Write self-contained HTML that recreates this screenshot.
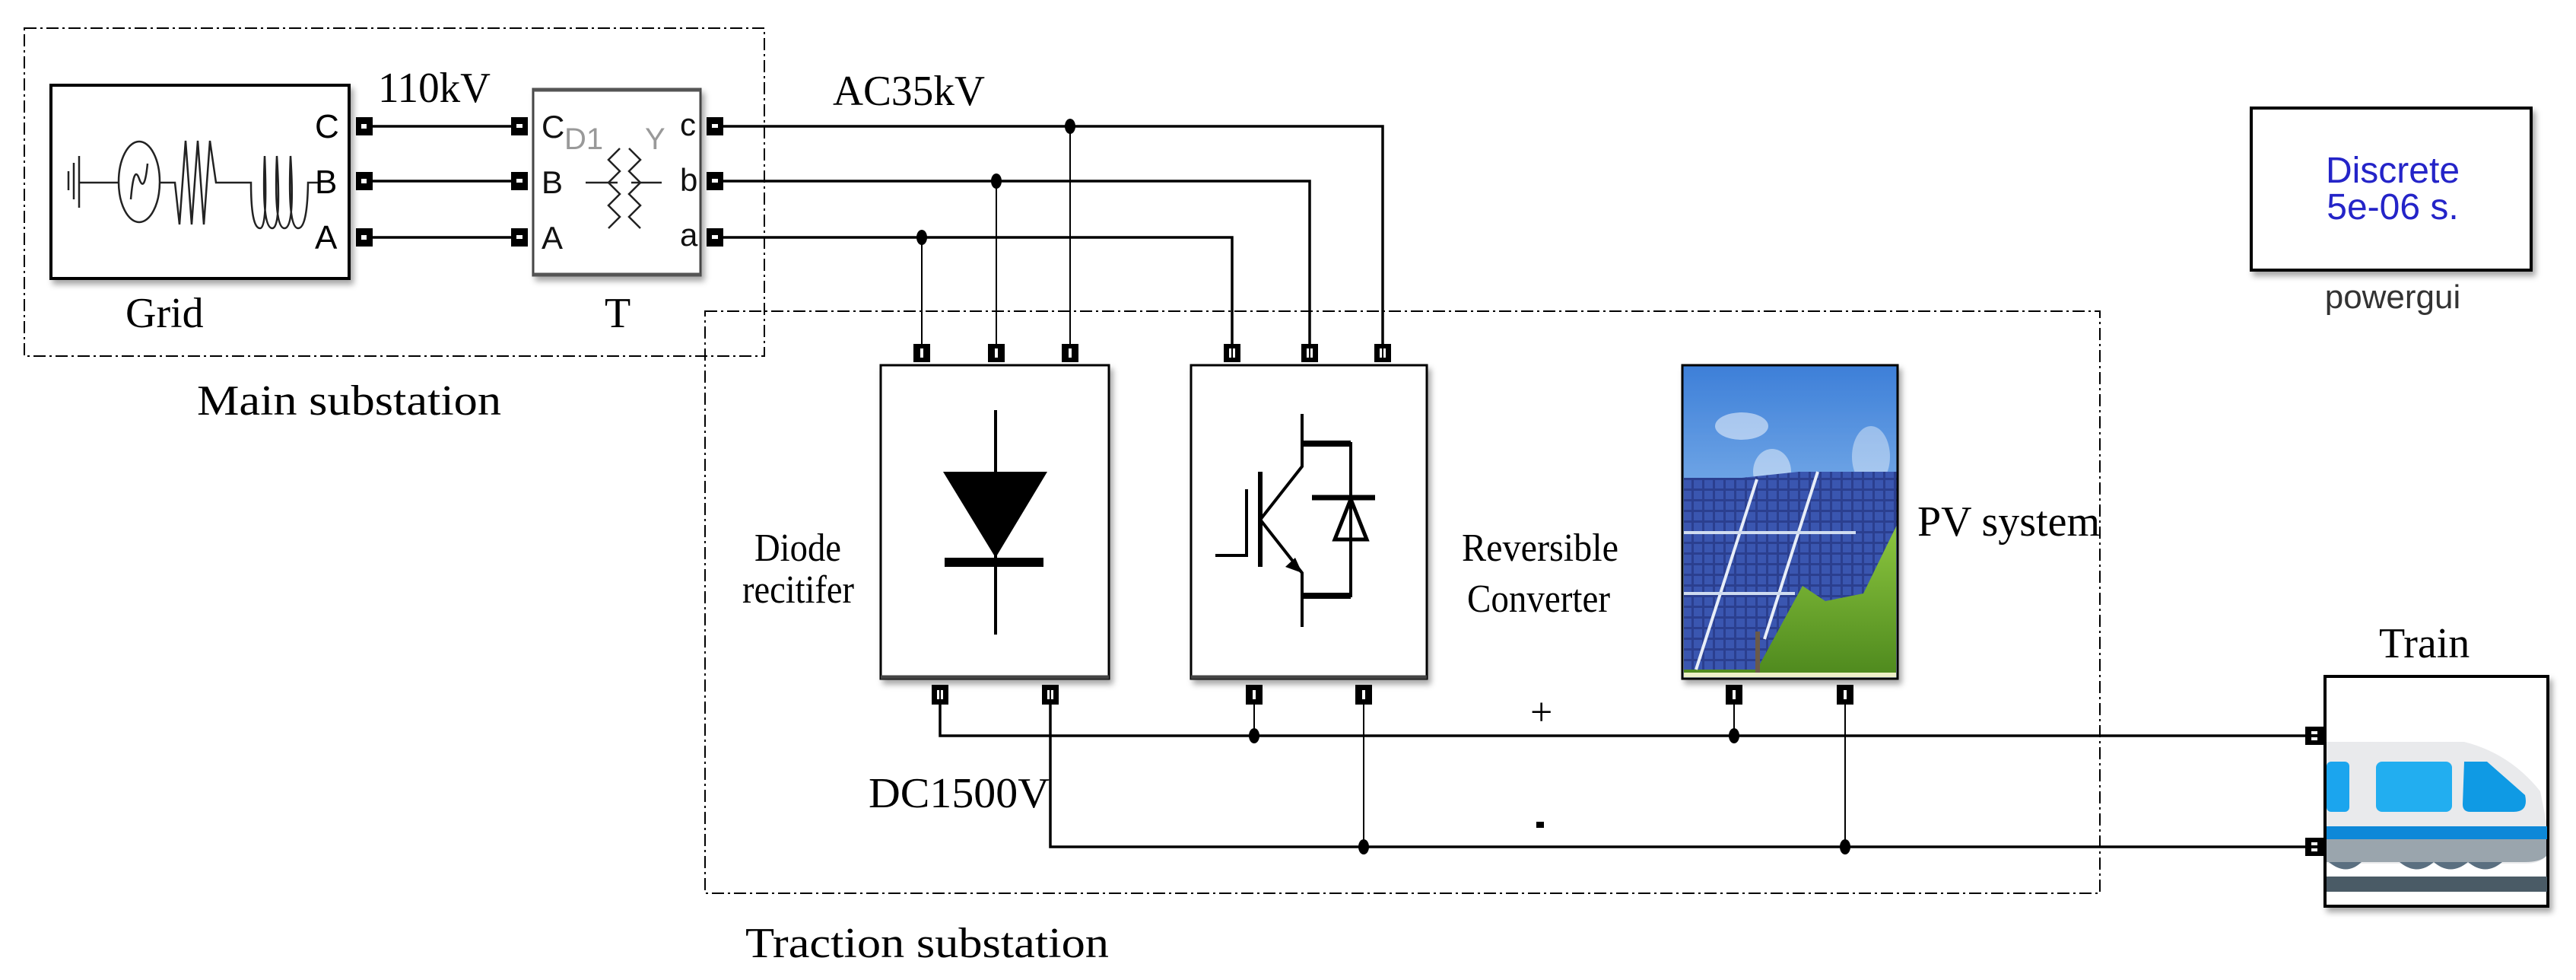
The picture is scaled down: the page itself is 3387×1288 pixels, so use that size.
<!DOCTYPE html>
<html><head><meta charset="utf-8"><style>
html,body{margin:0;padding:0;background:#fff;}
svg{display:block;}
.serif{font-family:"Liberation Serif",serif;fill:#000;}
.sans{font-family:"Liberation Sans",sans-serif;}
</style></head><body>
<svg width="3387" height="1288" viewBox="0 0 3387 1288" xmlns="http://www.w3.org/2000/svg">
<defs>
<filter id="sh" x="-10%" y="-10%" width="130%" height="130%"><feDropShadow dx="4" dy="6" stdDeviation="4" flood-color="#000" flood-opacity="0.35"/></filter>
<linearGradient id="sky" x1="0" y1="0" x2="0" y2="1"><stop offset="0" stop-color="#3d7fd8"/><stop offset="0.5" stop-color="#7fb1ea"/><stop offset="1" stop-color="#c8dcf0"/></linearGradient>
<linearGradient id="grass" x1="0" y1="0" x2="0" y2="1"><stop offset="0" stop-color="#8cc63f"/><stop offset="1" stop-color="#4f8a1e"/></linearGradient>
<pattern id="cells" width="14" height="14" patternUnits="userSpaceOnUse"><rect width="14" height="14" fill="#2b3f8f"/><rect x="1" y="1" width="11" height="11" fill="#3a56b0"/></pattern>
</defs>

<g fill="none" stroke="#000" stroke-width="2" stroke-dasharray="16 5 3 5">
<rect x="32" y="37" width="973" height="431"/>
<rect x="927" y="409" width="1834" height="765"/>
</g>

<!-- Grid block -->
<rect x="67" y="112" width="392" height="254" fill="#fff" stroke="#000" stroke-width="4" filter="url(#sh)"/>
<g fill="none" stroke="#222" stroke-width="2.5">
<line x1="90" y1="225" x2="90" y2="250"/><line x1="97" y1="214" x2="97" y2="262"/><line x1="104" y1="205" x2="104" y2="273"/>
<line x1="104" y1="240" x2="155" y2="240"/>
<ellipse cx="183" cy="239" rx="27" ry="53"/>
<path d="M172 262 Q176 215 183 235 Q190 255 194 215"/>
<path d="M210 240 L230 240 L236 295 L244 185 L252 295 L260 185 L268 295 L276 185 L284 240 L300 240"/>
<path d="M300 240 L330 240 Q330 300 342 300 Q352 300 348 205 Q344 300 358 300 Q370 300 364 205 Q360 300 374 300 Q388 300 382 205 Q378 300 392 300 Q404 300 405 240 L418 240"/>
</g>
<g class="sans" font-size="44" fill="#000">
<text x="414" y="181">C</text><text x="414" y="254">B</text><text x="414" y="327">A</text>
</g>

<!-- T block -->
<rect x="701" y="117" width="220" height="245" fill="#fff" stroke="#444" stroke-width="3" filter="url(#sh)"/>
<line x1="701" y1="118" x2="921" y2="118" stroke="#555" stroke-width="5"/>
<line x1="701" y1="361" x2="921" y2="361" stroke="#555" stroke-width="5"/>
<g class="sans" font-size="42" fill="#111">
<text x="712" y="181">C</text><text x="712" y="254">B</text><text x="712" y="327">A</text>
<text x="894" y="178">c</text><text x="894" y="251">b</text><text x="894" y="323">a</text>
</g>
<g class="sans" font-size="40" fill="#999"><text x="742" y="196">D1</text><text x="848" y="196">Y</text></g>
<g fill="none" stroke="#222" stroke-width="2.5">
<path d="M815 195 L800 210 L815 225 L800 240 L815 255 L800 270 L815 285 L800 300"/>
<path d="M827 195 L842 210 L827 225 L842 240 L827 255 L842 270 L827 285 L842 300"/>
<line x1="770" y1="240" x2="812" y2="240"/><line x1="830" y1="240" x2="870" y2="240"/>
</g>

<!-- powergui -->
<rect x="2960" y="142" width="368" height="213" fill="#fff" stroke="#000" stroke-width="4" filter="url(#sh)"/>
<g class="sans" font-size="48" fill="#2424c8" text-anchor="middle">
<text x="3146" y="240">Discrete</text><text x="3146" y="288">5e-06 s.</text>
</g>
<text class="sans" x="3146" y="405" font-size="44" fill="#333" text-anchor="middle">powergui</text>

<!-- Diode rectifier block -->
<rect x="1158" y="480" width="300" height="412" fill="#fff" stroke="#000" stroke-width="3" filter="url(#sh)"/>
<line x1="1158" y1="890" x2="1458" y2="890" stroke="#444" stroke-width="5"/>
<line x1="1309" y1="539" x2="1309" y2="834" stroke="#000" stroke-width="4"/>
<polygon points="1240,620 1377,620 1309,733" fill="#000"/>
<rect x="1242" y="733" width="130" height="12" fill="#000"/>

<!-- Converter block -->
<rect x="1566" y="480" width="310" height="412" fill="#fff" stroke="#000" stroke-width="3" filter="url(#sh)"/>
<line x1="1566" y1="890" x2="1876" y2="890" stroke="#444" stroke-width="5"/>
<g stroke="#000" fill="none" stroke-width="4">
<polyline points="1712,544 1712,613 1657,683 1712,753 1712,824"/>
<line x1="1657" y1="620" x2="1657" y2="745" stroke-width="6"/>
<polyline points="1598,730 1639,730 1639,643"/>
<polyline points="1712,583 1776,583 1776,783 1712,783" stroke-width="4"/>
<line x1="1712" y1="583" x2="1776" y2="583" stroke-width="8"/>
<line x1="1712" y1="783" x2="1776" y2="783" stroke-width="8"/>
<line x1="1725" y1="654" x2="1808" y2="654" stroke-width="7"/>
<polygon points="1776,656 1755,709 1797,709" stroke-width="5"/>
</g>
<polygon points="1712,753 1690,745 1703,733" fill="#000"/>

<!-- PV block -->
<g filter="url(#sh)">
<rect x="2212" y="480" width="283" height="412" fill="url(#sky)" stroke="#000" stroke-width="3"/>
</g>
<g>
<ellipse cx="2290" cy="560" rx="35" ry="18" fill="#fff" opacity="0.5"/>
<ellipse cx="2330" cy="620" rx="25" ry="30" fill="#fff" opacity="0.45"/>
<ellipse cx="2460" cy="600" rx="25" ry="40" fill="#fff" opacity="0.4"/>
<rect x="2214" y="690" width="279" height="196" fill="url(#grass)"/>
<polygon points="2214,628 2290,628 2365,620 2494,620 2494,690 2450,780 2400,790 2370,770 2310,880 2214,880" fill="url(#cells)"/>
<line x1="2310" y1="630" x2="2230" y2="880" stroke="#e8eef8" stroke-width="4"/>
<line x1="2390" y1="620" x2="2320" y2="840" stroke="#e8eef8" stroke-width="4"/>
<line x1="2214" y1="700" x2="2440" y2="700" stroke="#d0dcf0" stroke-width="4"/>
<line x1="2214" y1="780" x2="2360" y2="780" stroke="#d0dcf0" stroke-width="4"/>
<rect x="2308" y="830" width="6" height="56" fill="#6a5a4a"/>
<rect x="2214" y="884" width="279" height="6" fill="#eef0c8"/>
<rect x="2212" y="480" width="283" height="412" fill="none" stroke="#000" stroke-width="3"/>
</g>

<!-- Train block -->
<rect x="3057" y="889" width="293" height="302" fill="#fff" stroke="#000" stroke-width="4" filter="url(#sh)"/>
<g>
<path d="M3059 975 L3240 975 Q3300 990 3340 1040 L3348 1080 L3348 1125 Q3340 1135 3320 1135 L3059 1135 Z" fill="#e9eaec"/>
<rect x="3059" y="1001" width="30" height="66" rx="6" fill="#1ba5ee"/>
<rect x="3124" y="1001" width="100" height="66" rx="8" fill="#22aef0"/>
<path d="M3240 1001 L3270 1001 L3320 1045 Q3325 1067 3305 1067 L3248 1067 Q3238 1067 3238 1057 Z" fill="#0f9ae4"/>
<rect x="3059" y="1086" width="290" height="17" fill="#0d88d8"/>
<path d="M3059 1103 L3348 1103 L3348 1125 Q3340 1133 3320 1133 L3059 1133 Z" fill="#9aa5ad"/>
<path d="M3062 1133 Q3085 1152 3105 1133 Z M3155 1133 Q3178 1152 3200 1133 Z M3200 1133 Q3222 1152 3245 1133 Z M3245 1133 Q3268 1152 3290 1133 Z" fill="#5a6f80"/>
<rect x="3059" y="1152" width="290" height="20" fill="#4a5b66"/>
</g>

<!-- wires -->
<g stroke="#000" fill="none" stroke-width="3.5">
<line x1="490" y1="166" x2="672" y2="166"/>
<line x1="490" y1="238" x2="672" y2="238"/>
<line x1="490" y1="312" x2="672" y2="312"/>
<polyline points="951,166 1818,166 1818,452"/>
<polyline points="951,238 1722,238 1722,452"/>
<polyline points="951,312 1620,312 1620,452"/>
<polyline points="1236,926 1236,967 3038,967"/>
<polyline points="1381,926 1381,1113 3038,1113"/>
</g>
<g stroke="#000" fill="none" stroke-width="2">
<line x1="1407" y1="166" x2="1407" y2="452"/>
<line x1="1310" y1="238" x2="1310" y2="452"/>
<line x1="1212" y1="312" x2="1212" y2="452"/>
<line x1="1649" y1="926" x2="1649" y2="967"/>
<line x1="1793" y1="926" x2="1793" y2="1113"/>
<line x1="2280" y1="926" x2="2280" y2="967"/>
<line x1="2426" y1="926" x2="2426" y2="1113"/>
</g>
<g fill="#000">
<ellipse cx="1407" cy="166" rx="7" ry="10"/>
<ellipse cx="1310" cy="238" rx="7" ry="10"/>
<ellipse cx="1212" cy="312" rx="7" ry="10"/>
<ellipse cx="1649" cy="967" rx="7" ry="10"/>
<ellipse cx="2280" cy="967" rx="7" ry="10"/>
<ellipse cx="1793" cy="1113" rx="7" ry="10"/>
<ellipse cx="2426" cy="1113" rx="7" ry="10"/>
</g>

<!-- ports -->
<g fill="#000">
<rect x="468" y="154" width="22" height="24"/><rect x="468" y="226" width="22" height="24"/><rect x="468" y="300" width="22" height="24"/>
<rect x="672" y="154" width="22" height="24"/><rect x="672" y="226" width="22" height="24"/><rect x="672" y="300" width="22" height="24"/>
<rect x="929" y="154" width="22" height="24"/><rect x="929" y="226" width="22" height="24"/><rect x="929" y="300" width="22" height="24"/>
<rect x="1201" y="452" width="22" height="24"/><rect x="1299" y="452" width="22" height="24"/><rect x="1396" y="452" width="22" height="24"/>
<rect x="1609" y="452" width="22" height="24"/><rect x="1711" y="452" width="22" height="24"/><rect x="1807" y="452" width="22" height="24"/>
<rect x="1225" y="900" width="22" height="26"/><rect x="1370" y="900" width="22" height="26"/>
<rect x="1638" y="900" width="22" height="26"/><rect x="1782" y="900" width="22" height="26"/>
<rect x="2269" y="900" width="22" height="26"/><rect x="2415" y="900" width="22" height="26"/>
<rect x="3031" y="955" width="24" height="24"/><rect x="3031" y="1101" width="24" height="24"/>
</g>
<g fill="#fff">
<rect x="475" y="163" width="7" height="6"/><rect x="475" y="235" width="7" height="6"/><rect x="475" y="309" width="7" height="6"/>
<rect x="679" y="163" width="8" height="5"/><rect x="679" y="235" width="8" height="5"/><rect x="679" y="309" width="8" height="5"/>
<rect x="936" y="163" width="8" height="5"/><rect x="936" y="235" width="8" height="5"/><rect x="936" y="309" width="8" height="5"/>
<rect x="1210" y="458" width="4" height="12"/><rect x="1308" y="458" width="4" height="12"/><rect x="1405" y="458" width="4" height="12"/>
<rect x="1616" y="458" width="3" height="12"/><rect x="1621" y="458" width="3" height="12"/><rect x="1718" y="458" width="3" height="12"/><rect x="1723" y="458" width="3" height="12"/><rect x="1814" y="458" width="3" height="12"/><rect x="1819" y="458" width="3" height="12"/>
<rect x="1232" y="907" width="3" height="12"/><rect x="1237" y="907" width="3" height="12"/><rect x="1377" y="907" width="3" height="12"/><rect x="1382" y="907" width="3" height="12"/>
<rect x="1647" y="907" width="4" height="12"/><rect x="1791" y="907" width="4" height="12"/>
<rect x="2278" y="907" width="4" height="12"/><rect x="2424" y="907" width="4" height="12"/>
<rect x="3039" y="961" width="8" height="4"/><rect x="3039" y="969" width="8" height="4"/><rect x="3039" y="1107" width="8" height="4"/><rect x="3039" y="1115" width="8" height="4"/>
</g>

<!-- labels -->
<g class="serif" font-size="56">
<text x="497" y="134" textLength="148" lengthAdjust="spacingAndGlyphs">110kV</text>
<text x="1095" y="138" textLength="200" lengthAdjust="spacingAndGlyphs">AC35kV</text>
<text x="165" y="430">Grid</text>
<text x="795" y="430">T</text>
<text x="259" y="545" textLength="400" lengthAdjust="spacingAndGlyphs">Main substation</text>
<text x="980" y="1258" textLength="478" lengthAdjust="spacingAndGlyphs">Traction substation</text>
<text x="3128" y="864">Train</text>
<text x="2521" y="704" textLength="240" lengthAdjust="spacingAndGlyphs">PV system</text>
<text x="1142" y="1061" textLength="238" lengthAdjust="spacingAndGlyphs">DC1500V</text>
<text x="2012" y="953" font-size="52">+</text>
</g>
<rect x="2020" y="1080" width="10" height="8" fill="#000"/>
<g class="serif" font-size="52">
<text x="992" y="737" textLength="114" lengthAdjust="spacingAndGlyphs">Diode</text>
<text x="976" y="792" textLength="147" lengthAdjust="spacingAndGlyphs">recitifer</text>
<text x="1922" y="737" textLength="206" lengthAdjust="spacingAndGlyphs">Reversible</text>
<text x="1929" y="804" textLength="188" lengthAdjust="spacingAndGlyphs">Converter</text>
</g>
</svg>
</body></html>
